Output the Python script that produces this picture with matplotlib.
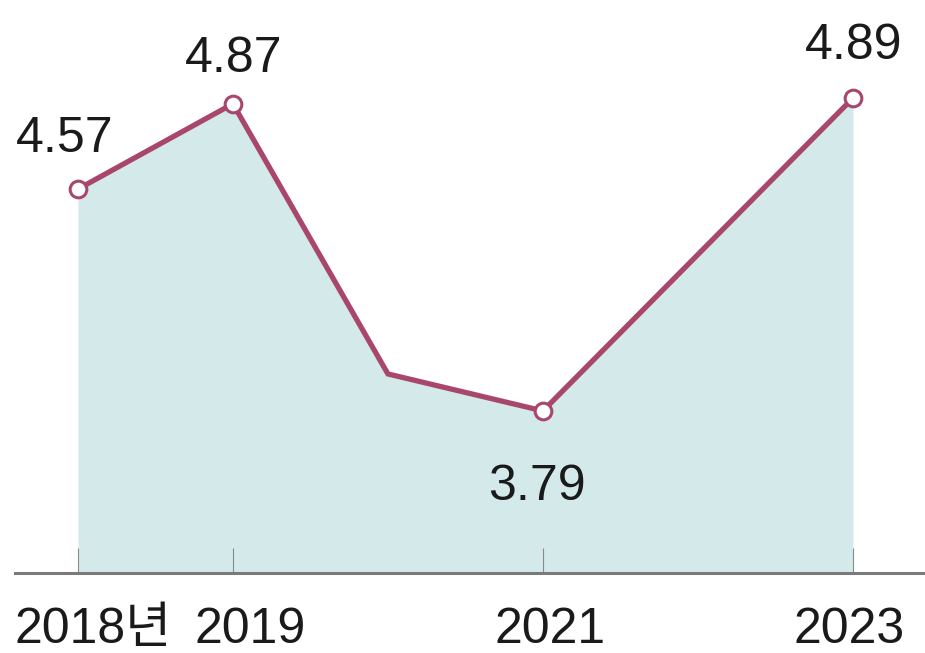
import matplotlib
matplotlib.use("Agg")
import matplotlib.pyplot as plt
from matplotlib import font_manager

years = [2018, 2019, 2020, 2021, 2023]
values = [4.57, 4.87, 3.92, 3.79, 4.89]
label_years = [2018, 2019, 2021, 2023]
label_texts = ["4.57", "4.87", "3.79", "4.89"]
tick_years = [2018, 2019, 2021, 2023]
tick_labels = ["2018년", "2019", "2021", "2023"]

names = {f.name for f in font_manager.fontManager.ttflist}
base = "Liberation Sans Narrow" if "Liberation Sans Narrow" in names else "Liberation Sans"
fam = [base, "Noto Sans CJK KR", "DejaVu Sans"]
plt.rcParams['font.family'] = fam
fs = 44 if base == "Liberation Sans Narrow" else 36

fig = plt.figure(figsize=(9.25, 6.53), dpi=100)
ax = fig.add_axes([15/925, 80/653, 910/925, 573/653])
ymin, ymax = 3.22, 5.235
ax.set_xlim(2017.594, 2023.465)
ax.set_ylim(ymin, ymax)

line_color = "#a8476b"
ax.fill_between(years, values, ymin, color="#d3e9ea", lw=0, zorder=1)
ax.plot(years, values, color=line_color, lw=3.8, zorder=3, solid_joinstyle='miter')
mk_x = [years[i] for i in range(len(years)) if years[i] in label_years]
mk_y = [values[i] for i in range(len(years)) if years[i] in label_years]
ax.plot(mk_x, mk_y, ls='none', marker='o', ms=12, mfc='white', mec=line_color, mew=2.2, zorder=4)

# value labels
offsets = {2018: (-13, 37), 2019: (1, 32), 2021: (-6, -89), 2023: (1, 39)}
for yr, txt in zip(label_years, label_texts):
    v = values[years.index(yr)]
    dx, dy = offsets[yr]
    ax.annotate(txt, (yr, v), xytext=(dx, dy), textcoords='offset pixels',
                ha='center', va='baseline', fontsize=fs, color='#1a1a1a', zorder=5)

for s in ['top', 'right', 'left']:
    ax.spines[s].set_visible(False)
ax.spines['bottom'].set_color('#7a7a7a')
ax.spines['bottom'].set_linewidth(2.2)
ax.spines['bottom'].set_zorder(6)
ax.set_yticks([])
ax.set_xticks(tick_years)
ax.set_xticklabels([])
ax.tick_params(axis='x', direction='in', length=18, width=0.8, color='#8a8a8a')

lab_off = {2018: 15, 2019: 17, 2021: 7, 2023: -4}
for yr, txt in zip(tick_years, tick_labels):
    ax.annotate(txt, (yr, ymin), xytext=(lab_off[yr], -70), textcoords='offset pixels',
                ha='center', va='baseline', fontsize=fs, color='#1a1a1a', annotation_clip=False)

fig.savefig("out.png", dpi=100, facecolor='white')
